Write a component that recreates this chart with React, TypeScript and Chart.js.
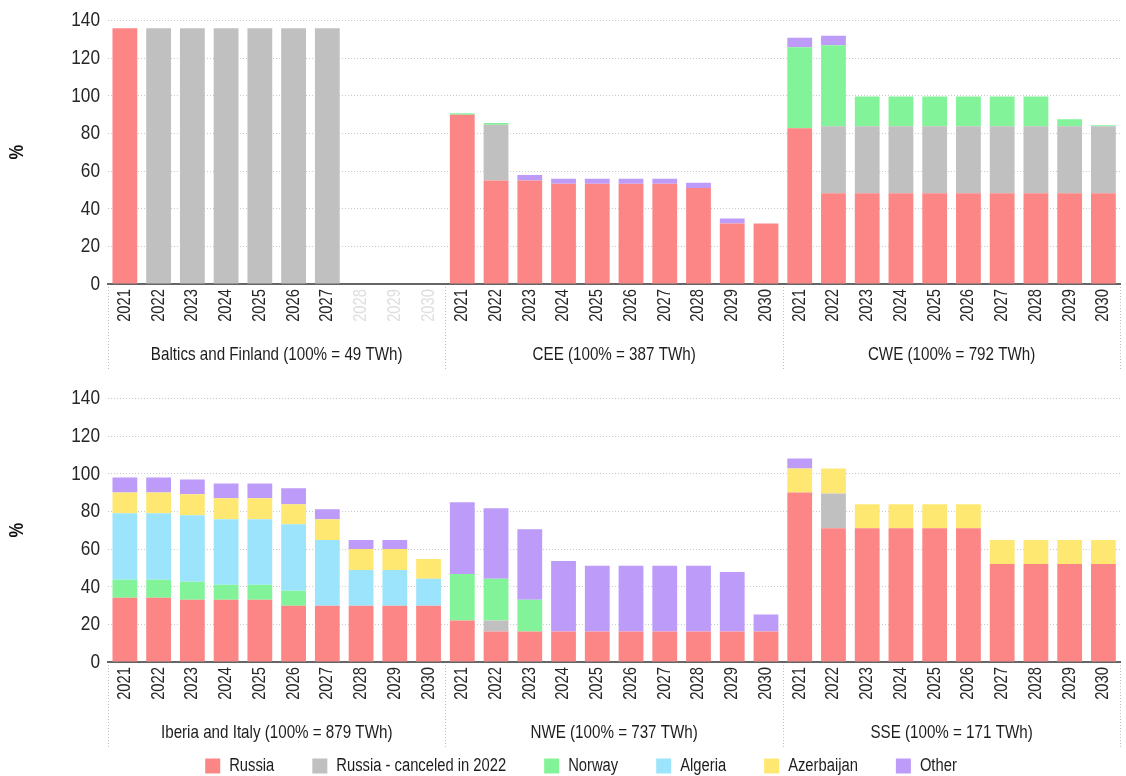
import React, { useEffect, useRef } from "react";
import { Chart, registerables } from "chart.js";

Chart.register(...registerables);

const YEARS = ["2021", "2022", "2023", "2024", "2025", "2026", "2027", "2028", "2029", "2030"];
const LABELS = [...YEARS, ...YEARS, ...YEARS];

const TOP_GROUPS = ["Baltics and Finland (100% = 49 TWh)", "CEE (100% = 387 TWh)", "CWE (100% = 792 TWh)"];
const BOTTOM_GROUPS = ["Iberia and Italy (100% = 879 TWh)", "NWE (100% = 737 TWh)", "SSE (100% = 171 TWh)"];

const SERIES_NAMES = ["Russia", "Russia - canceled in 2022", "Norway", "Algeria", "Azerbaijan", "Other"];
const SERIES_COLORS = ["#FC8686", "#C0C0C0", "#83F39A", "#9CE4FB", "#FEE872", "#BD9BF9"];

// Top panel: Baltics and Finland | CEE | CWE
const topRussia = [136, 0, 0, 0, 0, 0, 0, 0, 0, 0, 90, 55, 55, 53.3, 53.3, 53.3, 53.3, 51, 32.2, 32.2, 82.8, 48.2, 48.2, 48.2, 48.2, 48.2, 48.2, 48.2, 48.2, 48.2];
const topCanceled = [0, 136, 136, 136, 136, 136, 136, 0, 0, 0, 0, 29.7, 0, 0, 0, 0, 0, 0, 0, 0, 0, 35.7, 35.7, 35.7, 35.7, 35.7, 35.7, 35.7, 35.7, 35.7];
const topNorway = [0, 0, 0, 0, 0, 0, 0, 0, 0, 0, 0.8, 0.9, 0, 0, 0, 0, 0, 0, 0, 0, 43, 43, 15.8, 15.8, 15.8, 15.8, 15.8, 15.8, 3.7, 0.5];
const topAlgeria = [0, 0, 0, 0, 0, 0, 0, 0, 0, 0, 0, 0, 0, 0, 0, 0, 0, 0, 0, 0, 0, 0, 0, 0, 0, 0, 0, 0, 0, 0];
const topAzerbaijan = [0, 0, 0, 0, 0, 0, 0, 0, 0, 0, 0, 0, 0, 0, 0, 0, 0, 0, 0, 0, 0, 0, 0, 0, 0, 0, 0, 0, 0, 0];
const topOther = [0, 0, 0, 0, 0, 0, 0, 0, 0, 0, 0, 0, 3, 2.6, 2.6, 2.6, 2.6, 2.8, 2.6, 0, 5.1, 5.1, 0, 0, 0, 0, 0, 0, 0, 0];

// Bottom panel: Iberia and Italy | NWE | SSE
const bottomRussia = [34.2, 34.2, 33.1, 33.1, 33.1, 29.9, 29.9, 29.9, 29.9, 29.9, 22, 16.2, 16.2, 16.2, 16.2, 16.2, 16.2, 16.2, 16.2, 16.2, 90.1, 71.1, 71.1, 71.1, 71.1, 71.1, 52.1, 52.1, 52.1, 52.1];
const bottomCanceled = [0, 0, 0, 0, 0, 0, 0, 0, 0, 0, 0, 5.8, 0, 0, 0, 0, 0, 0, 0, 0, 0, 18.5, 0, 0, 0, 0, 0, 0, 0, 0];
const bottomNorway = [9.5, 9.5, 9.5, 7.9, 7.9, 8, 0, 0, 0, 0, 24.8, 22.2, 16.9, 0, 0, 0, 0, 0, 0, 0, 0, 0, 0, 0, 0, 0, 0, 0, 0, 0];
const bottomAlgeria = [35.3, 35.3, 35.4, 34.9, 34.9, 35.3, 34.9, 19, 19, 14.3, 0, 0, 0, 0, 0, 0, 0, 0, 0, 0, 0, 0, 0, 0, 0, 0, 0, 0, 0, 0];
const bottomAzerbaijan = [11.1, 11.1, 11.1, 11.1, 11.1, 10.6, 11.1, 11.1, 11.1, 10.6, 0, 0, 0, 0, 0, 0, 0, 0, 0, 0, 12.7, 13.2, 12.7, 12.7, 12.7, 12.7, 12.7, 12.7, 12.7, 12.7];
const bottomOther = [8, 8, 7.9, 7.9, 7.9, 8.5, 5.3, 4.8, 4.8, 0, 38.1, 37.5, 37.5, 37.5, 34.9, 34.9, 34.9, 34.9, 31.7, 9, 5.3, 0, 0, 0, 0, 0, 0, 0, 0, 0];

const Y_TICKS = { min: 0, max: 140, step: 20 };

const FONT = "'Liberation Sans', Arial, sans-serif";
// The reference uses a narrow (Arial Narrow-like) face; emulate it by condensing text horizontally.
const NARROW = 0.82;

function condenseText(canvas: HTMLCanvasElement, s: number) {
  const ctx: any = canvas.getContext("2d");
  const fill = ctx.fillText.bind(ctx);
  const measure = ctx.measureText.bind(ctx);
  ctx.fillText = (text: string, x: number, y: number, maxWidth?: number) => {
    ctx.save();
    ctx.translate(x, y);
    ctx.scale(s, 1);
    if (maxWidth !== undefined) fill(text, 0, 0, maxWidth / s);
    else fill(text, 0, 0);
    ctx.restore();
  };
  ctx.measureText = (text: string) => {
    const m = measure(text);
    return {
      width: m.width * s,
      actualBoundingBoxAscent: m.actualBoundingBoxAscent,
      actualBoundingBoxDescent: m.actualBoundingBoxDescent,
      actualBoundingBoxLeft: m.actualBoundingBoxLeft * s,
      actualBoundingBoxRight: m.actualBoundingBoxRight * s,
      fontBoundingBoxAscent: m.fontBoundingBoxAscent,
      fontBoundingBoxDescent: m.fontBoundingBoxDescent,
    };
  };
}

const separatorPlugin = {
  id: "groupSeparators",
  afterDraw(chart: any) {
    const xs = chart.scales.x;
    const ctx = chart.ctx;
    const half = (xs.getPixelForValue(1) - xs.getPixelForValue(0)) / 2;
    const top = chart.chartArea.bottom + 3;
    const bottom = chart.chartArea.bottom + 86;
    ctx.save();
    ctx.strokeStyle = "#bdbdbd";
    ctx.lineWidth = 1;
    ctx.setLineDash([1, 2]);
    [0, 10, 20, 30].forEach((i) => {
      const px = Math.round(xs.getPixelForValue(i) - half) + 0.5;
      ctx.beginPath();
      ctx.moveTo(px, top);
      ctx.lineTo(px, bottom);
      ctx.stroke();
    });
    ctx.restore();
  },
};

function buildConfig(series: number[][], groups: string[], greyIdx: number[]): any {
  return {
    type: "bar",
    data: {
      labels: LABELS,
      datasets: series.map((d, i) => ({
        label: SERIES_NAMES[i],
        data: d,
        backgroundColor: SERIES_COLORS[i],
        borderWidth: 0,
        barPercentage: 0.735,
        categoryPercentage: 1,
      })),
    },
    options: {
      animation: false,
      responsive: false,
      layout: { padding: { top: 19, left: 0, right: 0, bottom: 0 } },
      plugins: { legend: { display: false }, tooltip: { enabled: false } },
      scales: {
        x: {
          stacked: true,
          weight: 0,
          grid: { display: false, drawTicks: false },
          border: { display: true, color: "#666", width: 2 },
          ticks: {
            autoSkip: false,
            minRotation: 90,
            maxRotation: 90,
            padding: 5,
            font: { family: FONT, size: 18 },
            color: (c: any) => (greyIdx.includes(c.index) ? "#dedede" : "#262626"),
          },
          afterFit: (s: any) => {
            s.height = 46;
          },
        },
        x2: {
          type: "category",
          labels: groups,
          position: "bottom",
          offset: true,
          weight: 1,
          grid: { display: false, drawTicks: false },
          border: { display: false },
          ticks: {
            autoSkip: false,
            maxRotation: 0,
            minRotation: 0,
            padding: 14,
            font: { family: FONT, size: 18.5 },
            color: "#1e1e1e",
          },
          afterFit: (s: any) => {
            s.height = 42;
          },
        },
        y: {
          stacked: true,
          min: Y_TICKS.min,
          max: Y_TICKS.max,
          ticks: {
            stepSize: Y_TICKS.step,
            padding: 8,
            font: { family: FONT, size: 21 },
            color: "#262626",
          },
          grid: { color: "#c9c9c9", lineWidth: 1, drawTicks: false },
          border: { display: false, dash: [1, 2] },
          title: {
            display: true,
            text: "%",
            color: "#111",
            font: { family: FONT, size: 20, weight: "bold" },
            padding: { top: 5, bottom: 0 },
          },
          afterFit: (s: any) => {
            s.width = 108;
          },
        },
      },
    },
    plugins: [separatorPlugin],
  };
}

export default function App() {
  const topRef = useRef<HTMLCanvasElement>(null);
  const bottomRef = useRef<HTMLCanvasElement>(null);
  const legendRef = useRef<HTMLCanvasElement>(null);

  useEffect(() => {
    const tc = topRef.current as HTMLCanvasElement;
    const bc = bottomRef.current as HTMLCanvasElement;
    const lc = legendRef.current as HTMLCanvasElement;
    condenseText(tc, NARROW);
    condenseText(bc, NARROW);
    condenseText(lc, NARROW);
    const top = new Chart(
      tc,
      buildConfig([topRussia, topCanceled, topNorway, topAlgeria, topAzerbaijan, topOther], TOP_GROUPS, [7, 8, 9])
    );
    const bottom = new Chart(
      bc,
      buildConfig([bottomRussia, bottomCanceled, bottomNorway, bottomAlgeria, bottomAzerbaijan, bottomOther], BOTTOM_GROUPS, [])
    );
    const legend = new Chart(lc, {
      type: "bar",
      data: {
        labels: [],
        datasets: SERIES_NAMES.map((n, i) => ({ label: n, data: [], backgroundColor: SERIES_COLORS[i], borderWidth: 0 })),
      },
      options: {
        animation: false,
        responsive: false,
        plugins: {
          legend: {
            position: "top",
            labels: {
              boxWidth: 15,
              boxHeight: 15,
              padding: 38,
              color: "#1e1e1e",
              font: { family: FONT, size: 18 },
            },
          },
          tooltip: { enabled: false },
        },
        scales: { x: { display: false }, y: { display: false } },
      },
    } as any);
    return () => {
      top.destroy();
      bottom.destroy();
      legend.destroy();
    };
  }, []);

  return (
    <div style={{ position: "absolute", left: 0, top: 0, width: 1126, height: 776, overflow: "hidden", background: "#fff" }}>
      <canvas ref={topRef} width={1130} height={372} style={{ position: "absolute", left: 0, top: 0, display: "block" }} />
      <canvas ref={bottomRef} width={1130} height={372} style={{ position: "absolute", left: 0, top: 378, display: "block" }} />
      <canvas ref={legendRef} width={1162} height={160} style={{ position: "absolute", left: 0, top: 719, display: "block" }} />
    </div>
  );
}
